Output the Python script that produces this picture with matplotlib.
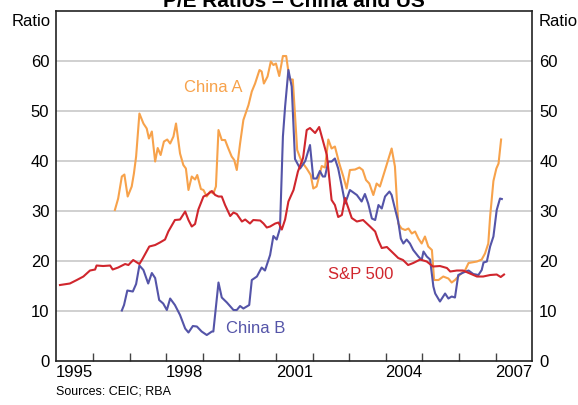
import matplotlib
matplotlib.use("Agg")
import matplotlib.pyplot as plt
from matplotlib.ticker import FixedLocator, NullFormatter

plt.rcParams["font.family"] = ["Liberation Sans", "DejaVu Sans"]

# S&P 500 P/E (decimal years, ratio)
sp_years = [1995.10, 1995.37, 1995.56, 1995.74, 1995.92, 1996.06, 1996.10, 1996.28, 1996.47, 1996.54,
            1996.69, 1996.88, 1996.97, 1997.10, 1997.27, 1997.36, 1997.54, 1997.70, 1997.83, 1997.97,
            1998.06, 1998.24, 1998.38, 1998.52, 1998.61, 1998.70, 1998.79, 1998.88, 1999.02, 1999.11,
            1999.25, 1999.34, 1999.43, 1999.52, 1999.61, 1999.75, 1999.84, 1999.93, 2000.07, 2000.16,
            2000.29, 2000.38, 2000.57, 2000.66, 2000.75, 2000.84, 2000.98, 2001.07, 2001.16, 2001.25,
            2001.34, 2001.48, 2001.60, 2001.74, 2001.84, 2001.93, 2002.07, 2002.18, 2002.39, 2002.52,
            2002.61, 2002.70, 2002.80, 2002.89, 2002.93, 2003.07, 2003.21, 2003.38, 2003.57, 2003.71,
            2003.79, 2003.89, 2004.03, 2004.20, 2004.34, 2004.47, 2004.61, 2004.75, 2004.94, 2005.12,
            2005.29, 2005.48, 2005.67, 2005.76, 2005.94, 2006.11, 2006.30, 2006.49, 2006.66, 2006.85,
            2007.03, 2007.14, 2007.23]
sp_pe = [15.2, 15.5, 16.2, 16.9, 18.1, 18.3, 19.1, 19.0, 19.1, 18.3,
         18.7, 19.4, 19.2, 20.2, 19.4, 20.5, 22.9, 23.2, 23.7, 24.3,
         25.9, 28.2, 28.3, 29.9, 28.2, 26.9, 27.4, 30.3, 32.9, 33.2,
         34.0, 33.2, 32.9, 32.9, 31.2, 29.0, 29.7, 29.4, 27.9, 28.3,
         27.5, 28.2, 28.1, 27.5, 26.7, 26.9, 27.5, 27.7, 26.3, 28.3,
         31.9, 34.2, 37.9, 40.6, 46.2, 46.6, 45.6, 46.8, 41.2, 32.2,
         31.2, 28.8, 29.2, 32.6, 31.6, 28.6, 27.9, 28.2, 26.9, 25.9,
         24.2, 22.6, 22.8, 21.6, 20.6, 20.2, 19.2, 19.6, 20.3, 19.9,
         18.9, 19.0, 18.6, 17.9, 18.1, 18.1, 17.5, 16.9, 16.9, 17.2,
         17.3, 16.8, 17.3]

# China B shares P/E
cb_years = [1996.79, 1996.85, 1996.94, 1997.09, 1997.18, 1997.27, 1997.38, 1997.51, 1997.61, 1997.70,
            1997.81, 1997.92, 1998.02, 1998.11, 1998.24, 1998.38, 1998.52, 1998.61, 1998.73, 1998.84,
            1998.97, 1999.11, 1999.25, 1999.29, 1999.43, 1999.52, 1999.66, 1999.84, 1999.93, 2000.02,
            2000.11, 2000.27, 2000.34, 2000.48, 2000.61, 2000.70, 2000.84, 2000.93, 2001.02, 2001.11,
            2001.19, 2001.25, 2001.34, 2001.43, 2001.52, 2001.66, 2001.80, 2001.93, 2002.02, 2002.11,
            2002.20, 2002.28, 2002.34, 2002.43, 2002.52, 2002.61, 2002.70, 2002.80, 2002.89, 2003.02,
            2003.21, 2003.34, 2003.43, 2003.52, 2003.62, 2003.71, 2003.80, 2003.89, 2003.98, 2004.10,
            2004.16, 2004.25, 2004.34, 2004.41, 2004.48, 2004.57, 2004.66, 2004.75, 2004.89, 2004.98,
            2005.03, 2005.12, 2005.21, 2005.30, 2005.35, 2005.48, 2005.62, 2005.71, 2005.80, 2005.89,
            2005.98, 2006.12, 2006.26, 2006.39, 2006.53, 2006.62, 2006.67, 2006.76, 2006.85, 2006.94,
            2007.03, 2007.12, 2007.17]
cb_pe = [10.1, 11.2, 14.1, 13.9, 15.4, 19.1, 18.2, 15.5, 17.6, 16.6,
         12.2, 11.5, 10.2, 12.5, 11.2, 9.2, 6.5, 5.7, 7.0, 6.9,
         5.9, 5.2, 5.9, 5.9, 15.7, 12.7, 11.7, 10.2, 10.2, 11.0,
         10.5, 11.2, 16.2, 16.9, 18.7, 18.1, 21.2, 25.0, 24.3, 26.5,
         44.9, 50.9, 58.2, 54.9, 40.4, 38.5, 40.0, 43.2, 36.5, 36.5,
         38.0, 36.9, 36.9, 39.9, 39.9, 40.5, 38.5, 34.9, 31.5, 34.2,
         33.2, 31.9, 33.4, 31.5, 28.5, 28.2, 31.2, 30.5, 32.9, 33.9,
         33.2, 30.5, 27.9, 24.5, 23.5, 24.3, 23.5, 22.2, 20.9, 20.2,
         21.9, 20.9, 20.3, 14.9, 13.5, 11.9, 13.5, 12.5, 12.9, 12.7,
         17.2, 17.7, 18.1, 17.4, 17.2, 18.2, 19.7, 19.9, 22.9, 24.9,
         30.2, 32.5, 32.4]

# China A shares P/E
ca_years = [1996.60, 1996.69, 1996.79, 1996.86, 1996.95, 1997.06, 1997.12, 1997.18, 1997.27, 1997.38,
            1997.47, 1997.53, 1997.61, 1997.70, 1997.77, 1997.85, 1997.94, 1998.03, 1998.11, 1998.20,
            1998.27, 1998.38, 1998.47, 1998.54, 1998.61, 1998.70, 1998.79, 1998.85, 1998.95, 1999.02,
            1999.11, 1999.20, 1999.29, 1999.36, 1999.43, 1999.52, 1999.61, 1999.70, 1999.79, 1999.86,
            1999.93, 2000.02, 2000.11, 2000.25, 2000.34, 2000.43, 2000.55, 2000.61, 2000.67, 2000.77,
            2000.86, 2000.93, 2001.00, 2001.09, 2001.19, 2001.28, 2001.37, 2001.46, 2001.58, 2001.70,
            2001.84, 2001.95, 2002.02, 2002.11, 2002.25, 2002.34, 2002.43, 2002.52, 2002.61, 2002.73,
            2002.84, 2002.93, 2003.02, 2003.16, 2003.28, 2003.37, 2003.46, 2003.55, 2003.66, 2003.75,
            2003.84, 2003.98, 2004.16, 2004.25, 2004.34, 2004.43, 2004.53, 2004.62, 2004.71, 2004.80,
            2004.89, 2004.98, 2005.07, 2005.16, 2005.26, 2005.32, 2005.44, 2005.57, 2005.71, 2005.80,
            2005.89, 2006.03, 2006.17, 2006.26, 2006.49, 2006.62, 2006.71, 2006.80, 2006.85, 2006.94,
            2007.02, 2007.08, 2007.15]
ca_pe = [30.2, 32.5, 36.9, 37.3, 32.9, 34.9, 37.5, 40.9, 49.5, 47.5,
         46.5, 44.5, 45.9, 39.9, 42.6, 41.2, 43.9, 44.3, 43.5, 44.9,
         47.5, 41.5, 39.2, 38.5, 34.2, 36.9, 36.3, 37.2, 34.4, 34.2,
         32.9, 33.9, 33.5, 34.9, 46.2, 44.2, 44.2, 42.5, 40.9, 40.2,
         38.2, 43.5, 48.2, 51.2, 53.9, 55.5, 58.2, 57.9, 55.5, 56.9,
         59.9, 59.2, 59.5, 57.0, 61.0, 61.0, 56.3, 56.3, 42.2, 39.9,
         38.5, 37.2, 34.5, 34.9, 39.0, 38.7, 44.3, 42.5, 42.9, 39.5,
         36.9, 34.5, 38.2, 38.3, 38.7, 38.2, 36.2, 35.5, 33.2, 35.5,
         34.9, 38.2, 42.5, 38.9, 27.5, 26.5, 26.2, 26.5, 25.5, 25.9,
         24.5, 23.5, 24.9, 22.9, 22.2, 16.2, 16.2, 16.9, 16.5, 15.7,
         16.2, 17.3, 18.2, 19.6, 19.9, 20.3, 21.5, 23.5, 28.9, 36.0,
         38.5, 39.5, 44.3]

year_labels = ["1995", "1998", "2001", "2004", "2007"]
y_ticks = [0, 10, 20, 30, 40, 50, 60]

ORANGE = "#F7A24B"
BLUE = "#5454A8"
RED = "#D0262D"

fig = plt.figure(figsize=(5.78, 4.05), dpi=100)
ax = fig.add_axes([0.0974, 0.1086, 0.8234, 0.8642])

ax.set_xlim(1995, 2008)
ax.set_ylim(0, 70)

for v in y_ticks[1:]:
    ax.axhline(v, color="#C8C8C8", lw=1.2, zorder=0)

ax.plot(ca_years, ca_pe, color=ORANGE, lw=1.5, zorder=2)
ax.plot(cb_years, cb_pe, color=BLUE, lw=1.5, zorder=3)
ax.plot(sp_years, sp_pe, color=RED, lw=1.5, zorder=4)

ax.text(1999.28, 54.8, "China A", color=ORANGE, fontsize=12, ha="center", va="center")
ax.text(2000.46, 6.6, "China B", color=BLUE, fontsize=12, ha="center", va="center")
ax.text(2003.32, 17.4, "S&P 500", color=RED, fontsize=12, ha="center", va="center")

for s in ax.spines.values():
    s.set_color("#222222")
    s.set_linewidth(1.2)

# year boundary ticks, labels centred on each year
ax.xaxis.set_major_locator(FixedLocator(range(1996, 2008)))
ax.xaxis.set_major_formatter(NullFormatter())
ax.tick_params(axis="x", which="major", direction="in", length=6, width=1, color="#444444")
ax.xaxis.set_minor_locator(FixedLocator([int(y) + 0.5 for y in year_labels]))
ax.set_xticklabels(year_labels, minor=True)
ax.tick_params(axis="x", which="minor", length=0, labelsize=12, pad=3)

ax.set_yticks(y_ticks)
ax.tick_params(axis="y", length=0, labelsize=12, pad=5,
               left=False, right=False, labelleft=True, labelright=True)

fig.text(0.088, 0.948, "Ratio", fontsize=12, ha="right", va="center")
fig.text(0.932, 0.948, "Ratio", fontsize=12, ha="left", va="center")

fig.text(0.508, 0.983, "P/E Ratios \u2013 China and US", fontsize=15, fontweight="bold",
         ha="center", va="baseline")
fig.text(0.0974, 0.018, "Sources: CEIC; RBA", fontsize=9, ha="left", va="bottom")

fig.savefig("out.png", dpi=100)
